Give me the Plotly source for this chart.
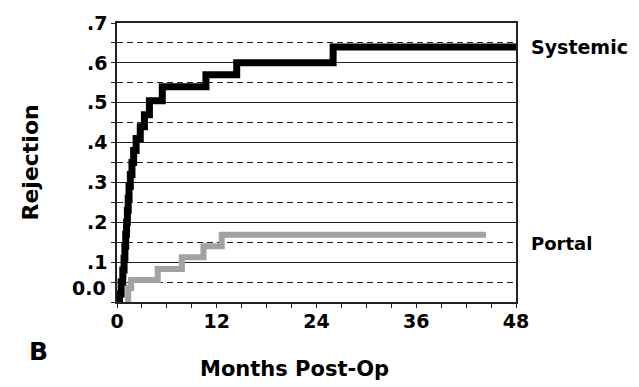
import plotly.graph_objects as go

# ---- data ----
sys_months = [0, 0.3, 0.5, 0.7, 0.85, 0.95, 1.05, 1.15, 1.25, 1.35, 1.45, 1.6, 1.8, 2.0,
              2.3, 2.8, 3.3, 3.9, 5.45, 10.7, 14.4, 26.0, 48.3]
sys_rejection = [0, 0.02, 0.05, 0.08, 0.11, 0.14, 0.17, 0.20, 0.23, 0.26, 0.29, 0.32, 0.35, 0.38,
                 0.41, 0.44, 0.47, 0.505, 0.54, 0.57, 0.60, 0.64, 0.64]

portal_months = [1.3, 1.35, 1.7, 4.9, 7.8, 10.4, 12.6, 44.4]
portal_rejection = [0, 0.035, 0.055, 0.083, 0.112, 0.14, 0.169, 0.169]

x_tickvals = [0, 12, 24, 36, 48]
x_ticktext = ["0", "12", "24", "36", "48"]
y_tickvals = [0, 0.1, 0.2, 0.3, 0.4, 0.5, 0.6, 0.7]
y_ticktext = ["", ".1", ".2", ".3", ".4", ".5", ".6", ".7"]

FONT = "DejaVu Sans"
fig = go.Figure()

fig.add_trace(go.Scatter(x=portal_months, y=portal_rejection, mode="lines",
                         line=dict(color="#a2a2a2", width=6, shape="hv"),
                         showlegend=False, hoverinfo="skip"))
fig.add_trace(go.Scatter(x=sys_months, y=sys_rejection, mode="lines",
                         line=dict(color="#000000", width=7, shape="hv"),
                         showlegend=False, hoverinfo="skip"))

fig.update_layout(
    width=639, height=387,
    margin=dict(l=117, r=123, t=18, b=85),
    paper_bgcolor="white", plot_bgcolor="white",
    font=dict(family=FONT, color="black"),
    xaxis=dict(range=[0, 48], tickvals=x_tickvals, ticktext=x_ticktext,
               showgrid=False, zeroline=False, showline=True, linecolor="#222",
               linewidth=1.5, mirror=True, ticks="outside", ticklen=4, tickcolor="#222",
               ticklabelstandoff=-3,
               tickfont=dict(family=FONT, size=19, color="black", weight="bold"),
               minor=dict(dtick=3, ticks="outside", ticklen=4, tickcolor="#222", showgrid=False)),
    yaxis=dict(range=[0, 0.7], tickvals=y_tickvals, ticktext=y_ticktext,
               showgrid=True, gridcolor="#222", gridwidth=1.2, zeroline=False,
               showline=True, linecolor="#222", linewidth=1.5, mirror=True,
               ticks="outside", ticklen=4, tickcolor="#222",
               tickfont=dict(family=FONT, size=19, color="black", weight="bold"),
               minor=dict(dtick=0.05, tick0=0, ticks="outside", ticklen=4, tickcolor="#222",
                          showgrid=True, gridcolor="#222", gridwidth=1.2, griddash="6px,4px")),
)

ann = [
    dict(text="0.0", xref="paper", yref="y", x=0, y=0.035, xanchor="right", yanchor="middle",
         xshift=-9, showarrow=False, font=dict(family=FONT, size=19, weight="bold")),
    dict(text="Systemic", xref="paper", yref="y", x=1, y=0.64, xanchor="left", yanchor="middle",
         xshift=13, showarrow=False, font=dict(family=FONT, size=19, weight="bold")),
    dict(text="Portal", xref="paper", yref="y", x=1, y=0.148, xanchor="left", yanchor="middle",
         xshift=13, showarrow=False, font=dict(family=FONT, size=18, weight="bold")),
    dict(text="Rejection", xref="paper", yref="paper", x=-0.218, y=0.5, xanchor="center",
         yanchor="middle", textangle=-90, showarrow=False,
         font=dict(family=FONT, size=22, weight="bold")),
    dict(text="Months Post-Op", xref="paper", yref="paper", x=0.446, y=-0.239, xanchor="center",
         yanchor="middle", showarrow=False, font=dict(family=FONT, size=21, weight="bold")),
    dict(text="B", xref="paper", yref="paper", x=-0.225, y=-0.176, xanchor="left",
         yanchor="middle", showarrow=False, font=dict(family=FONT, size=25, weight="bold")),
]
fig.update_layout(annotations=ann)

fig.write_html("out.html")
